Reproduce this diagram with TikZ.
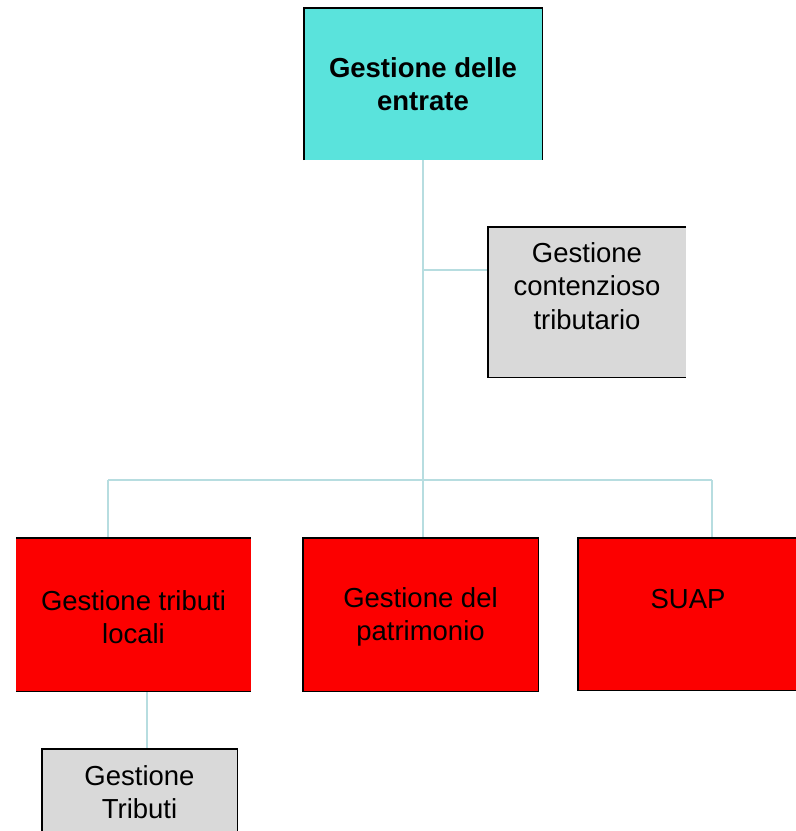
\documentclass[tikz,border=0pt]{standalone}
\usepackage{fontspec}
\setmainfont{Liberation Sans}
\begin{document}
\definecolor{boxcyan}{RGB}{90,227,220}
\definecolor{boxred}{RGB}{252,0,0}
\definecolor{boxgrey}{RGB}{217,217,217}
\definecolor{wire}{RGB}{183,221,224}
\begin{tikzpicture}[x=1pt,y=-1pt,
  box/.style={rectangle, inner sep=0pt, draw=none},
  edge/.style={line width=1.4pt, black},
  link/.style={line width=2.4pt, wire},
  lbl/.style={align=center, font=\fontsize{27.5}{33.5}\selectfont, inner sep=0pt}]
\useasboundingbox (0,0) rectangle (796,831);
% connectors
\coordinate (bus) at (423,480);
\coordinate (busL) at (108,480);
\coordinate (busR) at (712,480);
\coordinate (tap) at (423,270);
% boxes
\node[box, fill=boxcyan, minimum width=238pt, minimum height=152pt] (top) at (423,84) {};
\node[box, fill=boxgrey, minimum width=198pt, minimum height=150pt] (cont) at (587,302) {};
\node[box, fill=boxred, minimum width=235pt, minimum height=153pt] (trib) at (133.5,614.5) {};
\node[box, fill=boxred, minimum width=235pt, minimum height=153pt] (patr) at (420.5,614.5) {};
\node[box, fill=boxred, minimum width=220pt, minimum height=152pt] (suap) at (688,614) {};
\node[box, fill=boxgrey, minimum width=195pt, minimum height=84pt] (gtrib) at (139.5,791) {};
% wires
\draw[link] (top.south) -- (bus) -- (bus |- patr.north);
\draw[link] (tap) -- (cont.west |- tap);
\draw[link] (busL) -- (busR);
\draw[link] (busL) -- (busL |- trib.north);
\draw[link] (busR) -- (busR |- suap.north);
\draw[link] (trib.south -| 147,0) -- (gtrib.north -| 147,0);
% box outlines
\draw[edge] (top.south west) -- (top.north west) -- (top.north east) -- (top.south east);
\draw[edge] (cont.north east) -- (cont.north west) -- (cont.south west) -- (cont.south east);
\draw[edge] (trib.north west) -- (trib.north east);
\draw[edge] (trib.south west) -- (trib.south east);
\draw[edge] (patr.north west) rectangle (patr.south east);
\draw[edge] (suap.north east) -- (suap.north west) -- (suap.south west) -- (suap.south east);
\draw[edge] (gtrib.south west) -- (gtrib.north west) -- (gtrib.north east) -- (gtrib.south east);
% labels
\node[lbl, font=\fontsize{27.5}{33.5}\selectfont\bfseries] (topT) at (423,84) {Gestione delle\\entrate};
\node[lbl] (contT) at (587,286) {Gestione\\contenzioso\\tributario};
\node[lbl] (tribT) at (133.5,617) {Gestione tributi\\locali};
\node[lbl] (patrT) at (420.5,617) {Gestione del\\patrimonio};
\node[lbl] (suapT) at (688,599) {SUAP};
\node[lbl] (gtribT) at (139.5,792) {Gestione\\Tributi};
\end{tikzpicture}
\end{document}
